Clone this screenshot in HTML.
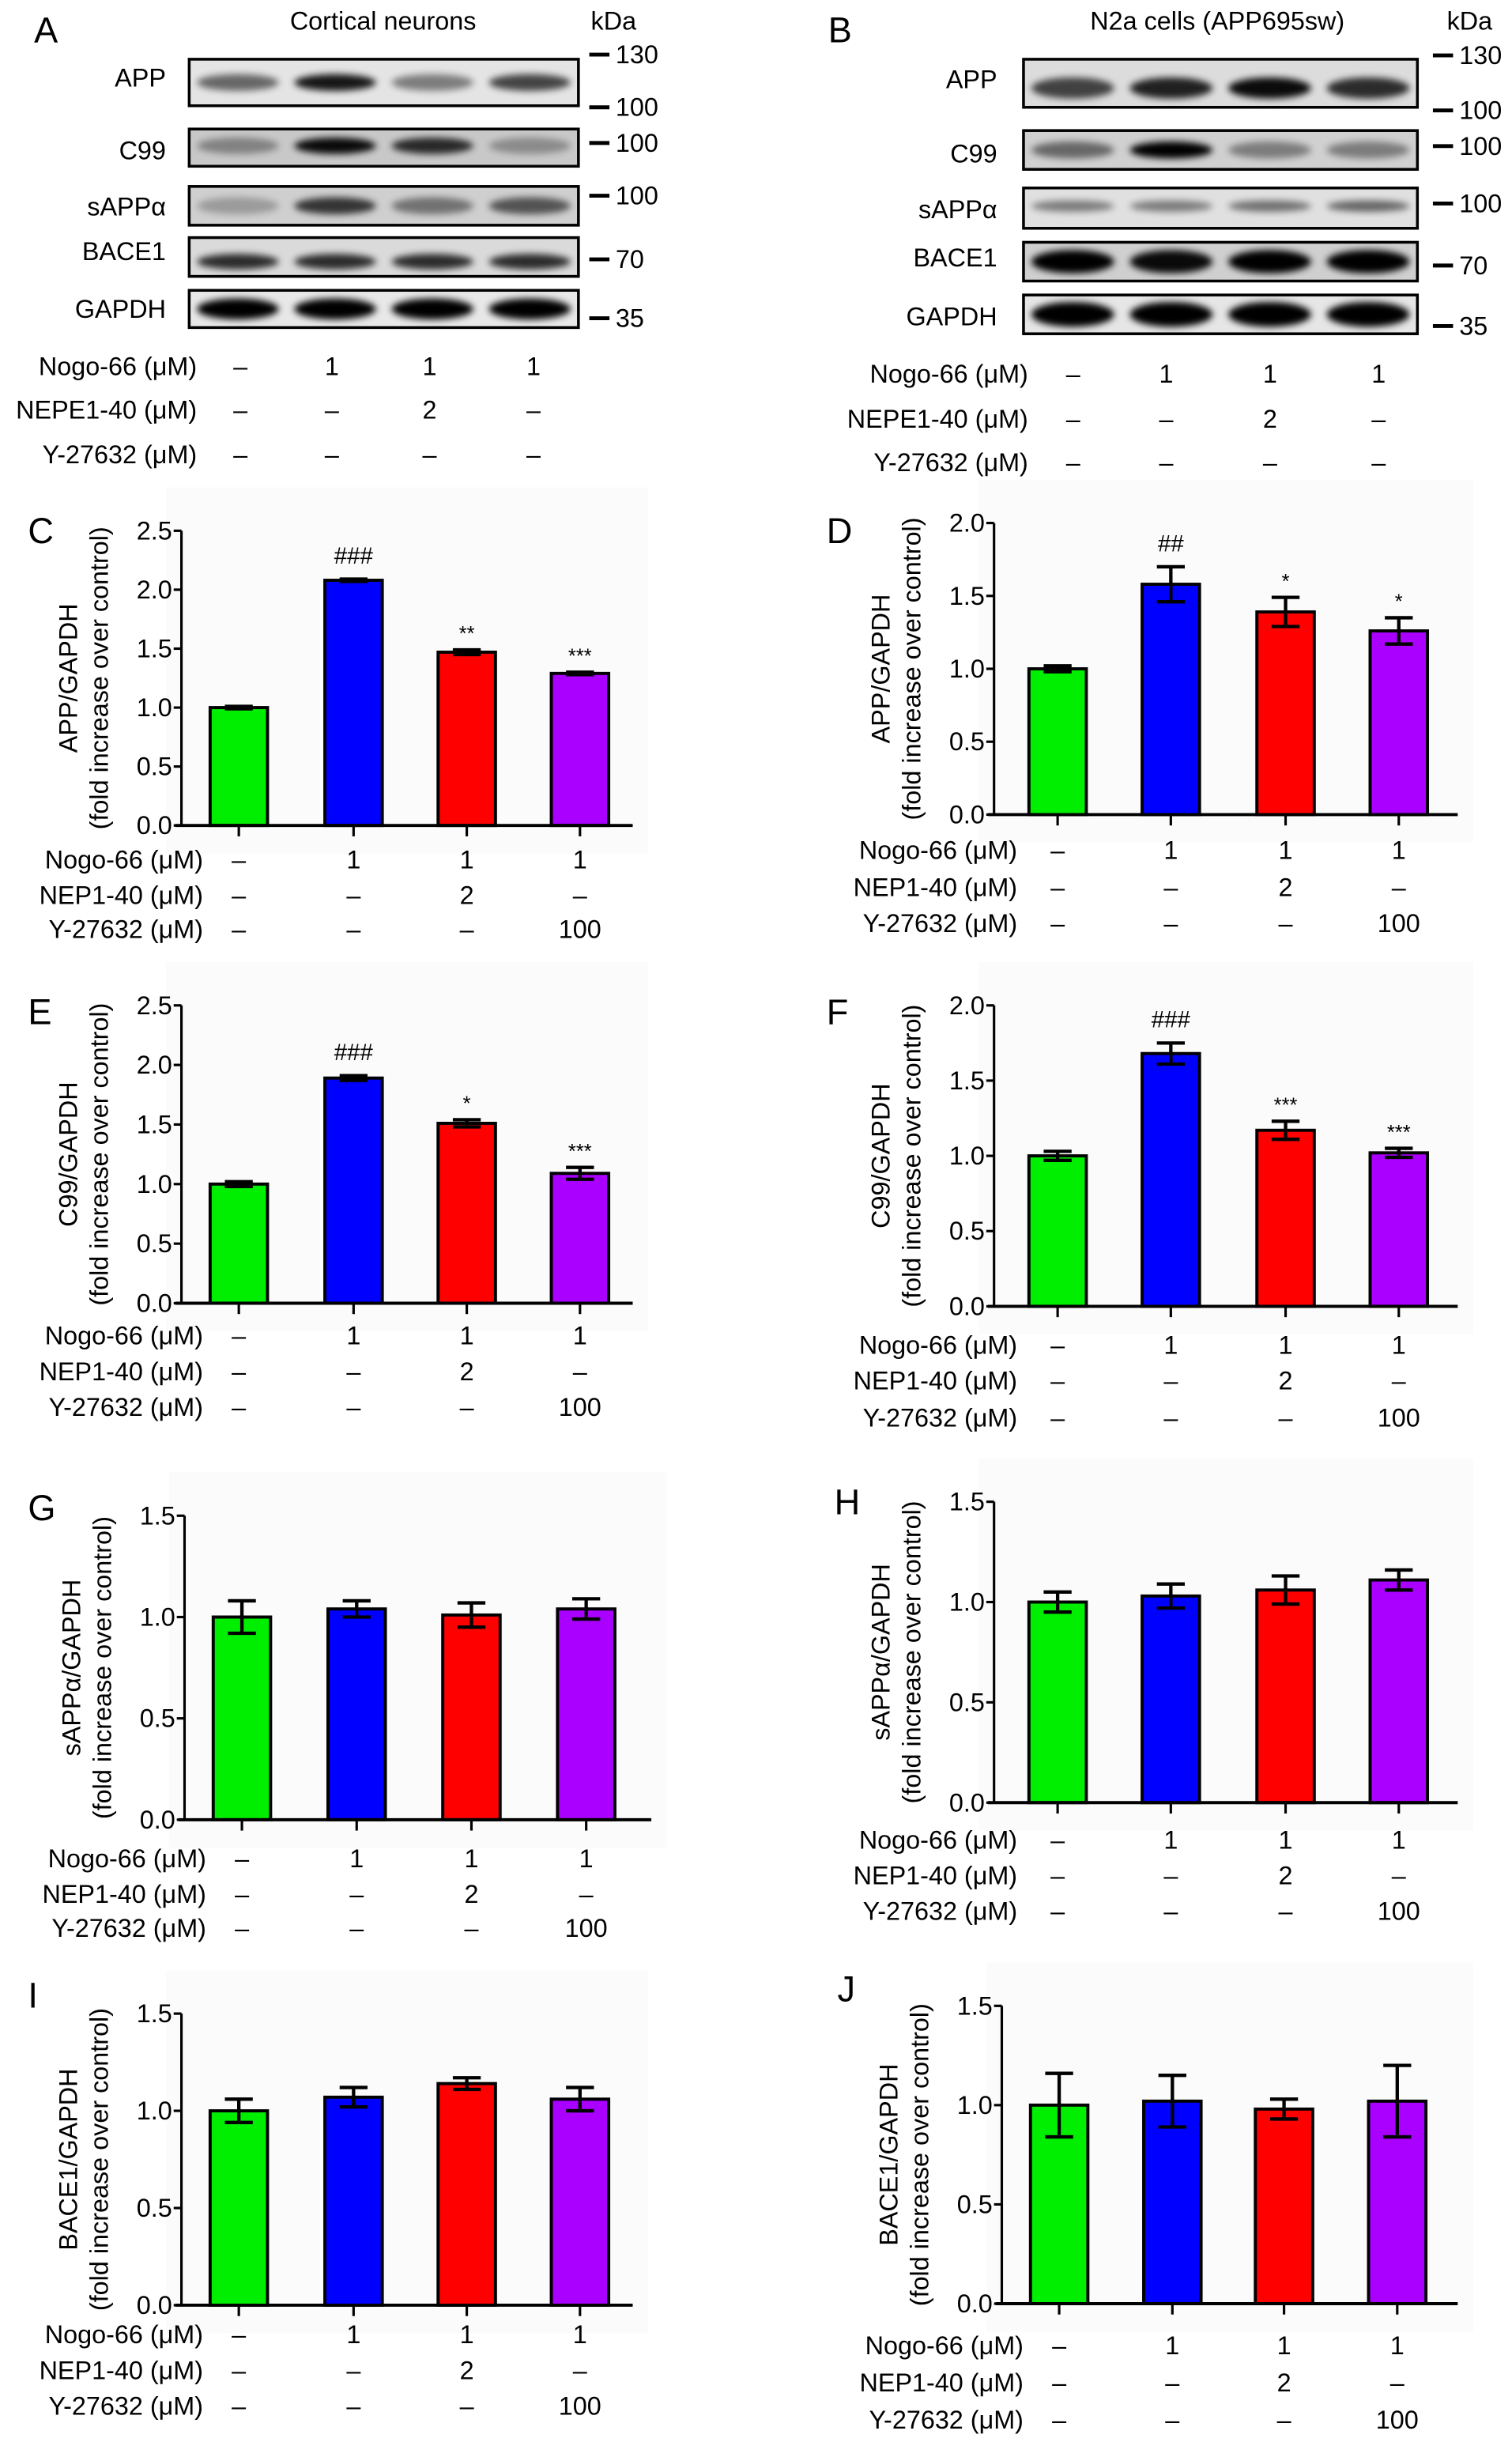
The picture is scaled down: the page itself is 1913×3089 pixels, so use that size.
<!DOCTYPE html>
<html><head><meta charset="utf-8">
<style>
html,body{margin:0;padding:0;background:#fff;}
svg{display:block;font-family:"Liberation Sans",Arial,sans-serif;}
</style></head>
<body>
<svg id="fig" xmlns="http://www.w3.org/2000/svg" width="1913" height="3089" viewBox="0 0 975 1574">
<defs>
<filter id="blur2" x="-20%" y="-50%" width="140%" height="200%"><feGaussianBlur stdDeviation="2.2"/></filter>
</defs>
<g id="root"></g>
</svg>
<script>
// ---- Chart data ----
const categories = ["Control", "Nogo-66", "Nogo-66+NEP1-40", "Nogo-66+Y-27632"];
const barColors = ["#00ee00", "#0000ff", "#ff0000", "#aa00ff"];
const rowLabels = ["Nogo-66 (\u03bcM)", "NEP1-40 (\u03bcM)", "Y-27632 (\u03bcM)"];
const rowValuesNogo = ["\u2013", "1", "1", "1"];
const rowValuesNep = ["\u2013", "\u2013", "2", "\u2013"];
const rowValuesY = ["\u2013", "\u2013", "\u2013", "100"];

const valuesC = [1.00, 2.08, 1.47, 1.29];
const errorsC = [0.01, 0.01, 0.02, 0.01];
const annotC = ["", "###", "**", "***"];
const valuesD = [1.00, 1.58, 1.39, 1.26];
const errorsD = [0.02, 0.12, 0.10, 0.09];
const annotD = ["", "##", "*", "*"];
const valuesE = [1.00, 1.89, 1.51, 1.09];
const errorsE = [0.02, 0.02, 0.03, 0.05];
const annotE = ["", "###", "*", "***"];
const valuesF = [1.00, 1.68, 1.17, 1.02];
const errorsF = [0.03, 0.07, 0.06, 0.03];
const annotF = ["", "###", "***", "***"];
const valuesG = [1.00, 1.04, 1.01, 1.04];
const errorsG = [0.08, 0.04, 0.06, 0.05];
const valuesH = [1.00, 1.03, 1.06, 1.11];
const errorsH = [0.05, 0.06, 0.07, 0.05];
const valuesI = [1.00, 1.07, 1.14, 1.06];
const errorsI = [0.06, 0.05, 0.03, 0.06];
const valuesJ = [1.00, 1.02, 0.98, 1.02];
const errorsJ = [0.16, 0.13, 0.05, 0.18];
const annotNone = ["", "", "", ""];

const ticksC = ["0.0","0.5","1.0","1.5","2.0","2.5"];
const ticksD = ["0.0","0.5","1.0","1.5","2.0"];
const ticksG = ["0.0","0.5","1.0","1.5"];

const FS = 16.5;
const NS = "http://www.w3.org/2000/svg";
const root = document.getElementById("root");
function el(tag, attrs, parent, text) {
  const e = document.createElementNS(NS, tag);
  for (const k in attrs) e.setAttribute(k, attrs[k]);
  if (text !== undefined) e.textContent = text;
  (parent || root).appendChild(e);
  return e;
}

// ---- Western blot panels ----
function blotPanel(cfg) {
  const g = el("g", {});
  
  
  const L = el("text", {x: cfg.letterX, y: 27, "font-size": 23}, g, cfg.letter);
  
  
  const t = el("text", {x: cfg.titleX, y: 19, "font-size": FS, "text-anchor": "middle"}, g, cfg.title);
  
  
  const k = el("text", {x: cfg.kdaX, y: 19, "font-size": FS}, g, "kDa");
  
  
  cfg.strips.forEach(s => {
    const sg = el("g", {}, g);
    
    
    el("rect", {x: cfg.x0, y: s.y0, width: cfg.x1 - cfg.x0, height: s.y1 - s.y0, fill: s.bg}, sg);
    const w = (cfg.x1 - cfg.x0) / 4;
    s.bands.forEach((d, i) => {
      const cx = cfg.x0 + w * (i + 0.5);
      const cy = s.y0 + (s.y1 - s.y0) * s.pos;
      el("ellipse", {cx: cx, cy: cy, rx: w * 0.42, ry: (s.y1 - s.y0) * s.h, fill: "#000", opacity: d, filter: "url(#blur2)"}, sg);
    });
    el("rect", {x: cfg.x0, y: s.y0, width: cfg.x1 - cfg.x0, height: s.y1 - s.y0, fill: "none", stroke: "#000", "stroke-width": 1.8}, sg);
    const lb = el("text", {x: cfg.labelX, y: s.ly, "font-size": FS, "text-anchor": "end", "dominant-baseline": "central"}, sg, s.label);
    
    
  });
  cfg.markers.forEach(m => {
    el("line", {x1: cfg.mx, x2: cfg.mx + 13, y1: m[0], y2: m[0], stroke: "#000", "stroke-width": 2.5}, g);
    const mt = el("text", {x: cfg.mx + 17, y: m[0], "font-size": FS, "dominant-baseline": "central"}, g, m[1]);
    
    
  });
  const rl = ["Nogo-66 (\u03bcM)", "NEPE1-40 (\u03bcM)", "Y-27632 (\u03bcM)"];
  const rv = [rowValuesNogo, rowValuesNep, ["\u2013","\u2013","\u2013","\u2013"]];
  rl.forEach((r, i) => {
    const tx = el("text", {x: cfg.rowLabelX, y: cfg.rows[i], "font-size": FS, "text-anchor": "end", "dominant-baseline": "central"}, g, r);
    
    
    rv[i].forEach((v, j) => {
      const vt = el("text", {x: cfg.cols[j], y: cfg.rows[i], "font-size": FS, "text-anchor": "middle", "dominant-baseline": "central"}, g, v);
      
      
    });
  });
}

blotPanel({
  name: "blot-panel-a", letter: "A", letterX: 22, title: "Cortical neurons", titleX: 247, kdaX: 381,
  x0: 122, x1: 373, labelX: 107, mx: 380,
  strips: [
    {label: "APP", y0: 38, y1: 68, ly: 50, bg: "#e4e4e4", pos: 0.5, h: 0.18, bands: [0.55, 0.9, 0.45, 0.7]},
    {label: "C99", y0: 83, y1: 107, ly: 97, bg: "#c8c8c8", pos: 0.45, h: 0.22, bands: [0.35, 0.95, 0.8, 0.3]},
    {label: "sAPP\u03b1", y0: 120, y1: 145, ly: 133, bg: "#cfcfcf", pos: 0.5, h: 0.22, bands: [0.25, 0.75, 0.45, 0.6]},
    {label: "BACE1", y0: 153, y1: 178, ly: 162, bg: "#dadada", pos: 0.62, h: 0.2, bands: [0.8, 0.8, 0.8, 0.8]},
    {label: "GAPDH", y0: 187, y1: 211, ly: 199, bg: "#e8e8e8", pos: 0.5, h: 0.28, bands: [1, 1, 1, 1]}
  ],
  markers: [[35, "130"], [69, "100"], [92, "100"], [126, "100"], [167, "70"], [205, "35"]],
  rowLabelX: 127, rows: [236, 264, 293], cols: [155, 214, 277, 344]
});
blotPanel({
  name: "blot-panel-b", letter: "B", letterX: 534, title: "N2a cells (APP695sw)", titleX: 785, kdaX: 933,
  x0: 660, x1: 914, labelX: 643, mx: 924,
  strips: [
    {label: "APP", y0: 38, y1: 69, ly: 51, bg: "#dcdcdc", pos: 0.6, h: 0.22, bands: [0.7, 0.85, 0.95, 0.8]},
    {label: "C99", y0: 84, y1: 109, ly: 99, bg: "#d0d0d0", pos: 0.5, h: 0.22, bands: [0.5, 1, 0.4, 0.4]},
    {label: "sAPP\u03b1", y0: 121, y1: 147, ly: 135, bg: "#e0e0e0", pos: 0.45, h: 0.14, bands: [0.45, 0.45, 0.5, 0.55]},
    {label: "BACE1", y0: 156, y1: 181, ly: 166, bg: "#cfcfcf", pos: 0.5, h: 0.3, bands: [1, 0.95, 1, 1]},
    {label: "GAPDH", y0: 190, y1: 215, ly: 204, bg: "#e6e6e6", pos: 0.5, h: 0.32, bands: [1, 1, 1, 1]}
  ],
  markers: [[35.5, "130"], [71, "100"], [94, "100"], [131, "100"], [171, "70"], [210, "35"]],
  rowLabelX: 663, rows: [241, 270, 298], cols: [692, 752, 819, 889]
});

// ---- Bar charts ----
function barChart(cfg) {
  const g = el("g", {});
  
  
  el("rect", {x: cfg.ax - 10, y: cfg.top - 28, width: cfg.xend - cfg.ax + 20, height: cfg.y0 - cfg.top + 46, fill: "#fbfbfb"}, g);
  const L = el("text", {x: cfg.letterX, y: cfg.letterY, "font-size": 23}, g, cfg.letter);
  
  
  const tmax = parseFloat(cfg.ticks[cfg.ticks.length - 1]);
  const yS = v => cfg.y0 - (v / tmax) * (cfg.y0 - cfg.top);
  const bw = 37;
  cfg.values.forEach((v, i) => {
    const cx = cfg.centers[i];
    const b = el("rect", {x: cx - bw / 2, y: yS(v), width: bw, height: cfg.y0 - yS(v), fill: barColors[i], stroke: "#000", "stroke-width": 2}, g);
    
    
    const e = cfg.errors[i];
    const eg = el("g", {stroke: "#000", "stroke-width": 2.2}, g);
    
    
    el("line", {x1: cx, x2: cx, y1: yS(v + e), y2: yS(v - e)}, eg);
    el("line", {x1: cx - 9, x2: cx + 9, y1: yS(v + e), y2: yS(v + e)}, eg);
    el("line", {x1: cx - 9, x2: cx + 9, y1: yS(v - e), y2: yS(v - e)}, eg);
    if (cfg.annot[i]) {
      const isHash = cfg.annot[i][0] === "#";
      const a = el("text", {x: cx, y: yS(v + e) - (isHash ? 10 : 6), "font-size": isHash ? 15 : 13, "text-anchor": "middle"}, g, cfg.annot[i]);
      
      
    }
  });
  const ya = el("line", {x1: cfg.ax, x2: cfg.ax, y1: cfg.top, y2: cfg.y0, stroke: "#000", "stroke-width": 1.6}, g);
  
  
  const xa = el("line", {x1: cfg.ax - 4, x2: cfg.xend, y1: cfg.y0, y2: cfg.y0, stroke: "#000", "stroke-width": 2}, g);
  
  
  cfg.ticks.forEach(t => {
    const y = yS(parseFloat(t));
    el("line", {x1: cfg.ax - 5, x2: cfg.ax, y1: y, y2: y, stroke: "#000", "stroke-width": 1.6}, g);
    const tt = el("text", {x: cfg.ax - 6, y: y, "font-size": FS, "text-anchor": "end", "dominant-baseline": "central"}, g, t);
    
    
  });
  cfg.centers.forEach(cx => {
    el("line", {x1: cx, x2: cx, y1: cfg.y0, y2: cfg.y0 + 7, stroke: "#000", "stroke-width": 1.6}, g);
  });
  const midY = (cfg.top + cfg.y0) / 2;
  const t1 = el("text", {x: 0, y: 0, "font-size": FS, "text-anchor": "middle", "dominant-baseline": "central", transform: `translate(${cfg.ax - 73},${midY}) rotate(-90)`}, g, cfg.ytitle);
  
  
  const t2 = el("text", {x: 0, y: 0, "font-size": FS, "text-anchor": "middle", "dominant-baseline": "central", transform: `translate(${cfg.ax - 53},${midY}) rotate(-90)`}, g, "(fold increase over control)");
  
  
  const rv = [rowValuesNogo, rowValuesNep, rowValuesY];
  rowLabels.forEach((r, i) => {
    const tx = el("text", {x: cfg.labelX, y: cfg.rows[i], "font-size": FS, "text-anchor": "end", "dominant-baseline": "central"}, g, r);
    
    
    rv[i].forEach((v, j) => {
      const vt = el("text", {x: cfg.centers[j], y: cfg.rows[i], "font-size": FS, "text-anchor": "middle", "dominant-baseline": "central"}, g, v);
      
      
    });
  });
}

const leftCenters = [154, 228, 301, 374];
const rightCenters = [682, 755, 829, 902];

barChart({name: "chart-c-app-cortical", letter: "C", letterX: 18, letterY: 350, ax: 117, xend: 408, top: 342, y0: 532, centers: leftCenters, values: valuesC, errors: errorsC, annot: annotC, ticks: ticksC, ytitle: "APP/GAPDH", labelX: 131, rows: [554, 577, 599]});
barChart({name: "chart-d-app-n2a", letter: "D", letterX: 533, letterY: 350, ax: 641, xend: 940, top: 337, y0: 525, centers: rightCenters, values: valuesD, errors: errorsD, annot: annotD, ticks: ticksD, ytitle: "APP/GAPDH", labelX: 656, rows: [548, 572, 595]});
barChart({name: "chart-e-c99-cortical", letter: "E", letterX: 18, letterY: 660, ax: 117, xend: 408, top: 648, y0: 840, centers: leftCenters, values: valuesE, errors: errorsE, annot: annotE, ticks: ticksC, ytitle: "C99/GAPDH", labelX: 131, rows: [861, 884, 907]});
barChart({name: "chart-f-c99-n2a", letter: "F", letterX: 533, letterY: 660, ax: 641, xend: 940, top: 648, y0: 842, centers: rightCenters, values: valuesF, errors: errorsF, annot: annotF, ticks: ticksD, ytitle: "C99/GAPDH", labelX: 656, rows: [867, 890, 914]});
barChart({name: "chart-g-sappa-cortical", letter: "G", letterX: 18, letterY: 980, ax: 119, xend: 420, top: 977, y0: 1173, centers: [156, 230, 304, 378], values: valuesG, errors: errorsG, annot: annotNone, ticks: ticksG, ytitle: "sAPP\u03b1/GAPDH", labelX: 133, rows: [1198, 1221, 1243]});
barChart({name: "chart-h-sappa-n2a", letter: "H", letterX: 538, letterY: 976, ax: 641, xend: 940, top: 968, y0: 1162, centers: rightCenters, values: valuesH, errors: errorsH, annot: annotNone, ticks: ticksG, ytitle: "sAPP\u03b1/GAPDH", labelX: 656, rows: [1186, 1209, 1232]});
barChart({name: "chart-i-bace1-cortical", letter: "I", letterX: 18, letterY: 1294, ax: 117, xend: 408, top: 1298, y0: 1486, centers: leftCenters, values: valuesI, errors: errorsI, annot: annotNone, ticks: ticksG, ytitle: "BACE1/GAPDH", labelX: 131, rows: [1505, 1528, 1551]});
barChart({name: "chart-j-bace1-n2a", letter: "J", letterX: 540, letterY: 1290, ax: 646, xend: 940, top: 1293, y0: 1485, centers: [683, 756, 828, 901], values: valuesJ, errors: errorsJ, annot: annotNone, ticks: ticksG, ytitle: "BACE1/GAPDH", labelX: 660, rows: [1512, 1536, 1560]});
</script>
</body></html>
